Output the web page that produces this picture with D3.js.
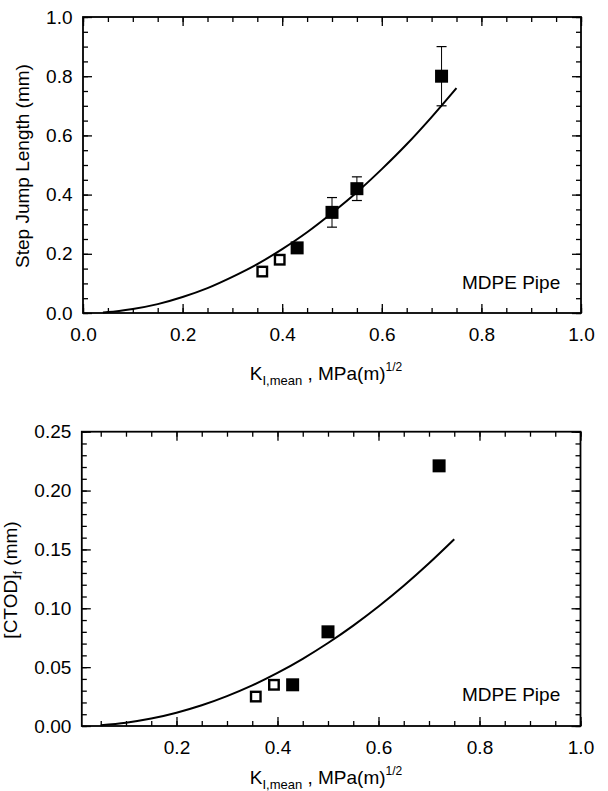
<!DOCTYPE html>
<html><head><meta charset="utf-8">
<script src="https://cdn.jsdelivr.net/npm/d3@7"></script>
<style>
html,body{margin:0;padding:0;background:#fff;}
svg{display:block;font-family:"Liberation Sans",Arial,sans-serif;}
</style></head>
<body>
<svg id="chart" width="608" height="791"></svg>
<script>
// ---- Top panel: Step jump length ----
const topOpenK = [0.36, 0.395];
const topOpenY = [0.14, 0.18];
const topFilledK = [0.43, 0.50, 0.55, 0.72];
const topFilledY = [0.22, 0.34, 0.42, 0.80];
const topErrLow  = [null, 0.29, 0.38, 0.70];
const topErrHigh = [null, 0.39, 0.46, 0.90];
const topCurveK = [0.04,0.05,0.10,0.15,0.20,0.25,0.30,0.35,0.40,0.45,0.50,0.55,0.60,0.65,0.70,0.75];
const topCurveY = [0.002,0.003,0.0135,0.030,0.054,0.084,0.122,0.165,0.216,0.273,0.338,0.408,0.486,0.570,0.662,0.760];
const topXTicks = [0.0,0.2,0.4,0.6,0.8,1.0];
const topYTicks = [0.0,0.2,0.4,0.6,0.8,1.0];

// ---- Bottom panel: CTOD ----
const botOpenK = [0.357, 0.393];
const botOpenY = [0.025, 0.035];
const botFilledK = [0.43, 0.50, 0.72];
const botFilledY = [0.035, 0.080, 0.221];
const botCurveK = [0.05,0.10,0.15,0.20,0.25,0.30,0.35,0.40,0.45,0.50,0.55,0.60,0.65,0.70,0.75];
const botCurveY = [0.0007,0.0028,0.0063,0.0113,0.0176,0.0254,0.0345,0.0451,0.0571,0.0705,0.0853,0.1015,0.1191,0.1382,0.1586];
const botXTicks = [0.2,0.4,0.6,0.8,1.0];
const botYTicks = [0.00,0.05,0.10,0.15,0.20,0.25];

const svg = d3.select("#chart");
const FS = 19;

function range(a,b,s){const r=[];for(let v=a;v<=b+1e-9;v+=s)r.push(+v.toFixed(4));return r;}

function panel(cfg){
  const g = svg.append("g");
  const x = d3.scaleLinear().domain(cfg.xDom).range(cfg.xRange);
  const y = d3.scaleLinear().domain(cfg.yDom).range(cfg.yRange);
  const [x0,x1] = cfg.xRange, [y0,y1] = cfg.yRange;

  const xMin = cfg.xMinor.filter(v=>v>=cfg.xDom[0]-1e-9 && v<=cfg.xDom[1]+1e-9);
  const yMin = cfg.yMinor;

  const addAxis = (axis, tr, labels) => {
    const a = g.append("g").attr("transform", tr).call(axis);
    a.select(".domain").remove();
    a.selectAll("line").attr("stroke","#000").attr("stroke-width",1.3);
    a.selectAll("text").attr("font-size",FS).attr("fill","#000").attr("font-family","Liberation Sans, Arial, sans-serif");
    if(!labels) a.selectAll("text").remove();
    return a;
  };
  // minor
  addAxis(d3.axisBottom(x).tickValues(xMin).tickSize(-5).tickFormat(""), `translate(0,${y0})`, false);
  addAxis(d3.axisTop(x).tickValues(xMin).tickSize(-5).tickFormat(""), `translate(0,${y1})`, false);
  addAxis(d3.axisLeft(y).tickValues(yMin).tickSize(-5).tickFormat(""), `translate(${x0},0)`, false);
  addAxis(d3.axisRight(y).tickValues(yMin).tickSize(-5).tickFormat(""), `translate(${x1},0)`, false);
  // major
  addAxis(d3.axisBottom(x).tickValues(cfg.xTicks).tickSize(-9).tickPadding(15).tickFormat(d3.format(".1f")), `translate(0,${y0})`, true);
  addAxis(d3.axisTop(x).tickValues(cfg.xTicks).tickSize(-9).tickFormat(""), `translate(0,${y1})`, false);
  addAxis(d3.axisLeft(y).tickValues(cfg.yTicks).tickSize(-9).tickPadding(10.5).tickFormat(d3.format(cfg.yFmt)), `translate(${x0},0)`, true);
  addAxis(d3.axisRight(y).tickValues(cfg.yTicks).tickSize(-9).tickFormat(""), `translate(${x1},0)`, false);

  // frame
  g.append("rect").attr("x",x0).attr("y",y1).attr("width",x1-x0).attr("height",y0-y1)
    .attr("fill","none").attr("stroke","#000").attr("stroke-width",1.8);

  // curve
  const pts = cfg.curveK.map((k,i)=>[k,cfg.curveY[i]]);
  g.append("path").datum(pts)
    .attr("d", d3.line().x(d=>x(d[0])).y(d=>y(d[1])).curve(d3.curveMonotoneX))
    .attr("fill","none").attr("stroke","#000").attr("stroke-width",2);

  // error bars
  if(cfg.errLow){
    cfg.filledK.forEach((k,i)=>{
      if(cfg.errLow[i]==null) return;
      const cx = x(k), ya = y(cfg.errLow[i]), yb = y(cfg.errHigh[i]);
      g.append("line").attr("x1",cx).attr("x2",cx).attr("y1",ya).attr("y2",yb).attr("stroke","#000").attr("stroke-width",1);
      [ya,yb].forEach(yy=>g.append("line").attr("x1",cx-5).attr("x2",cx+5).attr("y1",yy).attr("y2",yy).attr("stroke","#000").attr("stroke-width",1.2));
    });
  }
  // filled squares
  const fs = 13;
  cfg.filledK.forEach((k,i)=>{
    g.append("rect").attr("x",x(k)-fs/2).attr("y",y(cfg.filledY[i])-fs/2).attr("width",fs).attr("height",fs)
      .attr("fill","#000");
  });
  // open squares
  const os = 9.5;
  cfg.openK.forEach((k,i)=>{
    g.append("rect").attr("x",x(k)-os/2).attr("y",y(cfg.openY[i])-os/2).attr("width",os).attr("height",os)
      .attr("fill","#fff").attr("stroke","#000").attr("stroke-width",2.4);
  });

  // MDPE Pipe label
  g.append("text").attr("x",cfg.labelX).attr("y",cfg.labelY).attr("font-size",FS).text("MDPE Pipe");

  // x title
  const xt = g.append("text").attr("x",cfg.xTitleX).attr("y",cfg.xTitleY).attr("text-anchor","middle").attr("font-size",FS);
  xt.append("tspan").text("K");
  xt.append("tspan").attr("font-size",13).attr("dy",5).text("I,mean");
  xt.append("tspan").attr("dy",-5).text(" , MPa(m)");
  xt.append("tspan").attr("font-size",12).attr("dy",-9).text("1/2");

  // y title
  const yt = g.append("text").attr("transform",`translate(${cfg.yTitleX},${cfg.yTitleY}) rotate(-90)`)
    .attr("text-anchor","middle").attr("font-size",FS);
  if(cfg.yTitleSub){
    yt.append("tspan").text(cfg.yTitle);
    yt.append("tspan").attr("font-size",13).attr("dy",5).text(cfg.yTitleSub);
    yt.append("tspan").attr("dy",-5).text(cfg.yTitleRest);
  } else {
    yt.text(cfg.yTitle);
  }
}

panel({
  xDom:[0,1], xRange:[83,581], yDom:[0,1], yRange:[313,17],
  xTicks: topXTicks, yTicks: topYTicks, yFmt:".1f",
  xMinor: range(0,1,0.05), yMinor: range(0,1,0.05),
  openK: topOpenK, openY: topOpenY, filledK: topFilledK, filledY: topFilledY,
  errLow: topErrLow, errHigh: topErrHigh,
  curveK: topCurveK, curveY: topCurveY,
  labelX: 462, labelY: 289,
  xTitleX: 326, xTitleY: 380,
  yTitleX: 29, yTitleY: 166, yTitle: "Step Jump Length (mm)"
});

panel({
  xDom:[0.0125,1], xRange:[81.8,580.5], yDom:[0,0.25], yRange:[726,431.7],
  xTicks: botXTicks, yTicks: botYTicks, yFmt:".2f",
  xMinor: range(0,1,0.05), yMinor: range(0,0.25,0.01),
  openK: botOpenK, openY: botOpenY, filledK: botFilledK, filledY: botFilledY,
  errLow: null,
  curveK: botCurveK, curveY: botCurveY,
  labelX: 462, labelY: 701,
  xTitleX: 326, xTitleY: 784,
  yTitleX: 17, yTitleY: 580, yTitle: "[CTOD]", yTitleSub: "f", yTitleRest: " (mm)"
});
</script>
</body></html>
